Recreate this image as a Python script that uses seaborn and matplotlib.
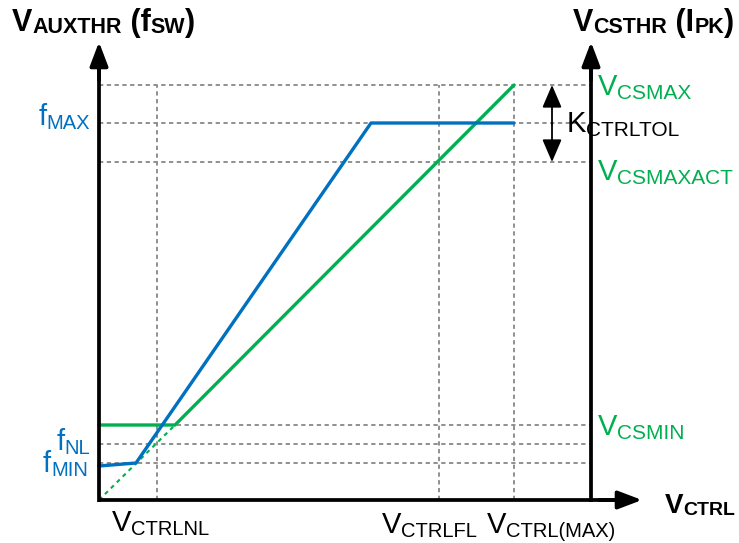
import numpy as np
import pandas as pd
import matplotlib
matplotlib.use("Agg")
import matplotlib.pyplot as plt
import seaborn as sns
from matplotlib.transforms import ScaledTranslation

sns.set_style("white")
plt.rcParams['font.family'] = ['Liberation Sans', 'DejaVu Sans']

# ---- data (schematic units; origin at axis intersection) ----
vctrl_nl, vctrl_fl, vctrl_max = 58, 340, 415
v_csmax, f_max, v_csmaxact = 415, 377, 338
v_csmin, f_nl, f_min = 75, 56, 37

blue_x = [0, 37, 272, 415]
blue_y = [34, 37, 377, 377]
green_x = [0, 76, 415]
green_y = [75, 75, 415]
green_dot_x = [0, 76]
green_dot_y = [0, 75]

right_axis_x = 492
axis_top = 458
axis_right = 543

BLUE = "#0070C0"
GREEN = "#00B050"
GREY = "#8f8f8f"

fig = plt.figure(figsize=(7.39, 5.43), dpi=100)
ax = fig.add_axes([0, 0, 1, 1])
ax.set_xlim(-99, 640)
ax.set_ylim(-43, 500)
ax.axis('off')
renderer = fig.canvas.get_renderer()

# dashed guide lines
for lvl in [v_csmax, f_max, v_csmaxact, v_csmin, f_nl, f_min]:
    ax.plot([0, right_axis_x], [lvl, lvl], color=GREY, lw=1.4, ls=(0, (2.2, 1.8)), zorder=1)
for v in [vctrl_nl, vctrl_fl, vctrl_max]:
    ax.plot([v, v], [0, v_csmax], color=GREY, lw=1.4, ls=(0, (2.2, 1.8)), zorder=1)

# curves
df_b = pd.DataFrame({"x": blue_x, "y": blue_y})
df_g = pd.DataFrame({"x": green_x, "y": green_y})
df_gd = pd.DataFrame({"x": green_dot_x, "y": green_dot_y})
sns.lineplot(data=df_g, x="x", y="y", ax=ax, color=GREEN, lw=2.4, sort=False, estimator=None, zorder=3)
sns.lineplot(data=df_gd, x="x", y="y", ax=ax, color=GREEN, lw=1.5, sort=False, estimator=None, zorder=3,
             linestyle=(0, (2, 2)))
sns.lineplot(data=df_b, x="x", y="y", ax=ax, color=BLUE, lw=2.4, sort=False, estimator=None, zorder=4)
ax.set_xlim(-99, 640)
ax.set_ylim(-43, 500)
ax.axis('off')


def arrow(x0, y0, x1, y1, lw=2.7, hl=14.5, hw=5.5, style='-|>'):
    ax.annotate('', xy=(x1, y1), xytext=(x0, y0),
                arrowprops=dict(arrowstyle=f'{style},head_length={hl},head_width={hw}',
                                lw=lw, color='black', shrinkA=0, shrinkB=0,
                                mutation_scale=1), zorder=5)


# axes
ax.plot([0, 0], [-1.5, 440], color='black', lw=2.7, solid_capstyle='butt', zorder=5)
arrow(0, 420, 0, axis_top)
ax.plot([right_axis_x, right_axis_x], [-1.5, 440], color='black', lw=2.7, solid_capstyle='butt', zorder=5)
arrow(right_axis_x, 420, right_axis_x, axis_top)
ax.plot([-1.5, 520], [0, 0], color='black', lw=2.7, solid_capstyle='butt', zorder=5)
arrow(500, 0, axis_right, 0)

# K tolerance double arrow
arrow(453, 376, 453, v_csmax, lw=1.3, hl=14, hw=6)
arrow(453, 376, 453, v_csmaxact, lw=1.3, hl=14, hw=6)


def rich(x, y, segs, color, ms, ss, weight='normal', ha='left', drop=3.0):
    texts = []
    widths = []
    for s, is_sub in segs:
        t = ax.text(x, y, s, fontsize=ss if is_sub else ms, color=color, fontweight=weight,
                    ha='left', va='baseline', zorder=6)
        texts.append((t, is_sub))
        widths.append(t.get_window_extent(renderer).width / fig.dpi)
    total = sum(widths)
    cur = -total if ha == 'right' else 0.0
    for (t, is_sub), w in zip(texts, widths):
        dy = -drop / 72 if is_sub else 0
        t.set_transform(ax.transData + ScaledTranslation(cur, dy, fig.dpi_scale_trans))
        cur += w


# titles
rich(-87, 469, [("V", False), ("AUXTHR", True), (" (f", False), ("SW", True), (")", False)],
     'black', 22, 15.5, weight='bold', drop=1.5)
rich(474, 469, [("V", False), ("CSTHR", True), (" (I", False), ("PK", True), (")", False)],
     'black', 22, 15.5, weight='bold', drop=1.5)
rich(566, -13, [("V", False), ("CTRL", True)], 'black', 20, 14, weight='bold', drop=1.5)

# bottom labels
rich(13, -31, [("V", False), ("CTRLNL", True)], 'black', 21, 14.5)
rich(283, -33, [("V", False), ("CTRLFL", True)], 'black', 21, 14.5)
rich(388, -33, [("V", False), ("CTRL(MAX)", True)], 'black', 21, 14.5)

# left labels
rich(-9, 375, [("f", False), ("MAX", True)], BLUE, 21, 14.5, ha='right')
rich(-9, 50, [("f", False), ("NL", True)], BLUE, 21, 14.5, ha='right')
rich(-11, 28, [("f", False), ("MIN", True)], BLUE, 21, 14.5, ha='right')

# right labels
rich(499, 405, [("V", False), ("CSMAX", True)], GREEN, 21, 15)
rich(499, 320, [("V", False), ("CSMAXACT", True)], GREEN, 21, 15)
rich(499, 65, [("V", False), ("CSMIN", True)], GREEN, 21, 15)
rich(468, 368, [("K", False), ("CTRLTOL", True)], 'black', 21, 15)

fig.savefig("out.png", dpi=100)
